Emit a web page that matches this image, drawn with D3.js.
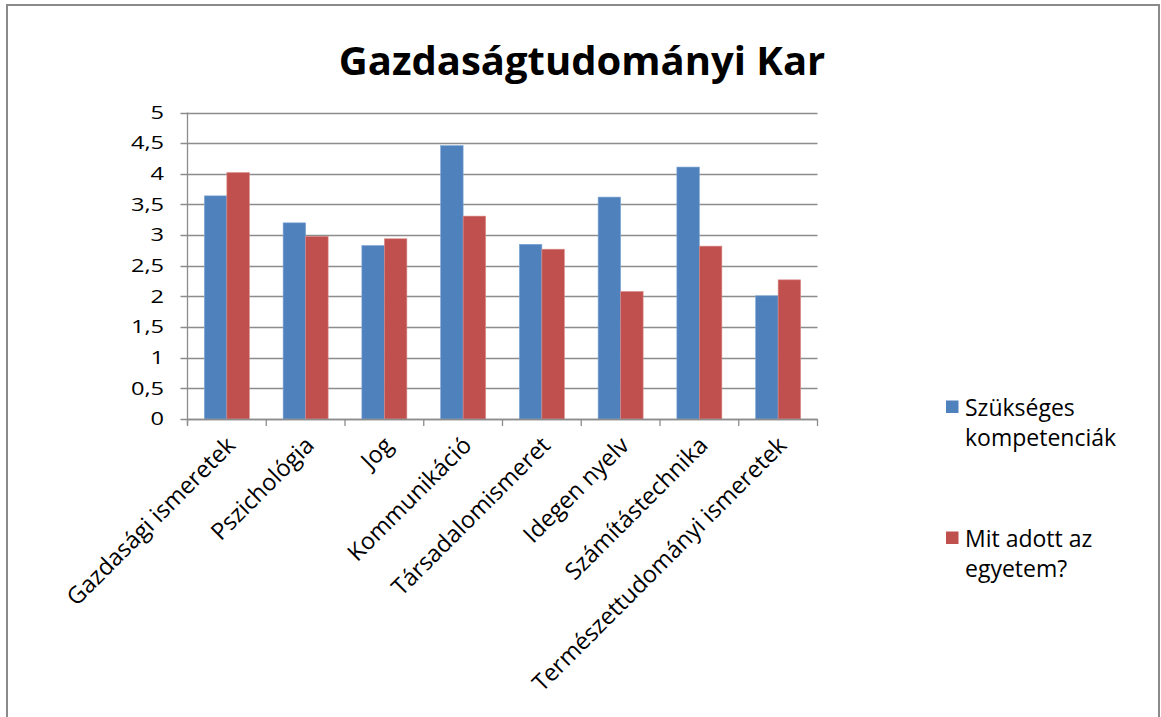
<!DOCTYPE html>
<html>
<head>
<meta charset="utf-8">
<script src="https://cdn.jsdelivr.net/npm/d3@7"></script>
<style>
  html, body { margin: 0; padding: 0; background: #fff; }
  svg { display: block; }
  text { font-family: "Open Sans", "Liberation Sans", sans-serif; fill: #000; }
</style>
</head>
<body>
<svg id="chart" width="1161" height="717"></svg>
<script>
// Categories (competence areas) and the two survey series
const categories = [
  "Gazdasági ismeretek", "Pszichológia", "Jog", "Kommunikáció",
  "Társadalomismeret", "Idegen nyelv", "Számítástechnika",
  "Természettudományi ismeretek"
];
const seriesNames = ["Szükséges kompetenciák", "Mit adott az egyetem?"];
const needed   = [3.64, 3.20, 2.83, 4.46, 2.85, 3.62, 4.11, 2.01];
const received = [4.02, 2.98, 2.94, 3.31, 2.77, 2.08, 2.82, 2.27];
const yTicks = [0, 0.5, 1, 1.5, 2, 2.5, 3, 3.5, 4, 4.5, 5];
const colors = ["#4F81BD", "#C0504D"];
const title = "Gazdaságtudományi Kar";

const svg = d3.select("#chart");
const W = 1161, H = 717;

// outer frame
svg.append("rect")
  .attr("x", 7).attr("y", 5).attr("width", W - 9).attr("height", H + 10)
  .attr("fill", "#fff").attr("stroke", "#8a8a8a").attr("stroke-width", 2);

// plot area
const plot = { left: 187.5, right: 817.5, top: 112.5, bottom: 419 };

const x = d3.scaleBand()
  .domain(categories)
  .range([plot.left, plot.right])
  .paddingInner(0).paddingOuter(0);

const y = d3.scaleLinear().domain([0, 5]).range([plot.bottom, plot.top]);

// grid lines
svg.append("g")
  .selectAll("line")
  .data(yTicks)
  .join("line")
  .attr("x1", plot.left - 7).attr("x2", plot.right)
  .attr("y1", d => Math.round(y(d)) + 0.5).attr("y2", d => Math.round(y(d)) + 0.5)
  .attr("stroke", "#8c8c8c").attr("stroke-width", 1.3);

// y tick labels (wide digits)
svg.append("g")
  .selectAll("text")
  .data(yTicks)
  .join("text")
  .attr("transform", d => `translate(164,${y(d)}) scale(1.35,1)`)
  .attr("dy", "0.36em")
  .attr("text-anchor", "end")
  .style("font-size", "17.5px")
  .text(d => d3.format(".1~f")(d).replace(".", ","));

// bars: clustered, gap width 150%
const groupW = x.bandwidth();
const barW = groupW / 3.5;
const inner = d3.scaleBand().domain([0, 1])
  .range([(groupW - 2 * barW) / 2, (groupW + 2 * barW) / 2]);

const seriesData = [needed, received];
seriesData.forEach((vals, si) => {
  svg.append("g")
    .selectAll("rect")
    .data(vals.map((v, i) => ({ cat: categories[i], v })))
    .join("rect")
    .attr("x", d => x(d.cat) + inner(si))
    .attr("width", inner.bandwidth())
    .attr("y", d => y(d.v))
    .attr("height", d => y(0) - y(d.v))
    .attr("fill", colors[si])
    .attr("stroke", si === 0 ? "#7fa6d6" : "#d98b89")
    .attr("stroke-width", 0.6);
});

// axis lines
svg.append("line")
  .attr("x1", plot.left).attr("x2", plot.left)
  .attr("y1", plot.top).attr("y2", plot.bottom + 6)
  .attr("stroke", "#8c8c8c").attr("stroke-width", 1.3);
svg.append("line")
  .attr("x1", plot.left).attr("x2", plot.right)
  .attr("y1", Math.round(plot.bottom) + 0.5).attr("y2", Math.round(plot.bottom) + 0.5)
  .attr("stroke", "#8c8c8c").attr("stroke-width", 1.3);

// category boundary ticks
const bounds = categories.map(c => x(c)).concat([plot.right]);
svg.append("g")
  .selectAll("line")
  .data(bounds)
  .join("line")
  .attr("x1", d => d).attr("x2", d => d)
  .attr("y1", plot.bottom).attr("y2", plot.bottom + 7)
  .attr("stroke", "#8c8c8c").attr("stroke-width", 1.3);

// rotated category labels
svg.append("g")
  .selectAll("text")
  .data(categories)
  .join("text")
  .attr("transform", d => `translate(${x(d) + groupW / 2 + 4},${plot.bottom + 22}) rotate(-45)`)
  .attr("text-anchor", "end")
  .attr("dy", "0.35em")
  .style("font-size", "23.5px")
  .text(d => d);

// title
svg.append("text")
  .attr("x", 582).attr("y", 75)
  .attr("text-anchor", "middle")
  .style("font-size", "40px")
  .style("font-weight", "bold")
  .text(title);

// legend
const legendLines = [["Szükséges", "kompetenciák"], ["Mit adott az", "egyetem?"]];
const legendY = [416, 547];
legendLines.forEach((lines, i) => {
  const g = svg.append("g");
  g.append("rect")
    .attr("x", 946).attr("y", legendY[i] - 15.5)
    .attr("width", 12.5).attr("height", 12.5)
    .attr("fill", colors[i]);
  lines.forEach((ln, j) => {
    g.append("text")
      .attr("x", 965).attr("y", legendY[i] + j * 30)
      .style("font-size", "23px")
      .text(ln);
  });
});
</script>
</body>
</html>
